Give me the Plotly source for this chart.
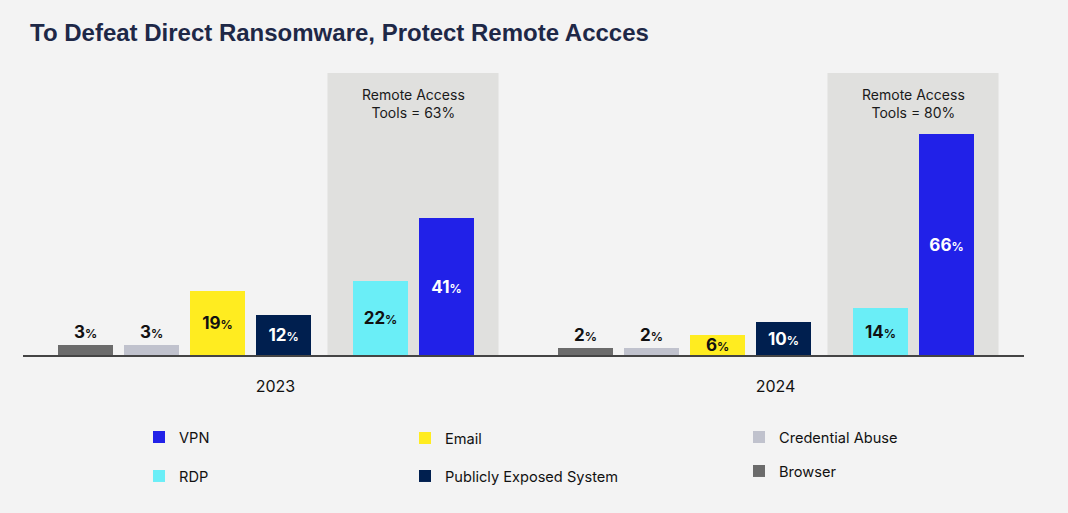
import plotly.graph_objects as go

# ---- data ----
years = ["2023", "2024"]
vpn = [41, 66]
rdp = [22, 14]
email = [19, 6]
publicly_exposed = [12, 10]
credential_abuse = [3, 2]
browser = [3, 2]
remote_access_totals = [63, 80]

series_names = ["VPN", "RDP", "Email", "Publicly Exposed System", "Credential Abuse", "Browser"]
series_values = [vpn, rdp, email, publicly_exposed, credential_abuse, browser]

# ---- styling / layout ----
colors = {
    "VPN": "#2121e8",
    "RDP": "#6aeef7",
    "Email": "#ffec20",
    "Publicly Exposed System": "#001f4f",
    "Credential Abuse": "#c0c2cd",
    "Browser": "#6b6b6b",
}
text_colors = {
    "VPN": "white", "RDP": "#111111", "Email": "#111111",
    "Publicly Exposed System": "white", "Credential Abuse": "#111111", "Browser": "#111111",
}
text_pos = {
    "VPN": "inside", "RDP": "inside", "Email": "inside",
    "Publicly Exposed System": "inside", "Credential Abuse": "outside", "Browser": "outside",
}
legend_of = {
    "VPN": "legend", "RDP": "legend", "Email": "legend2",
    "Publicly Exposed System": "legend2", "Credential Abuse": "legend3", "Browser": "legend3",
}
slot = {
    "Browser": 0, "Credential Abuse": 66, "Email": 132,
    "Publicly Exposed System": 198, "RDP": 294.5, "VPN": 360.5,
}
base = 62.5
group_step = 500
bar_w = 55
shade_half = 85.5
tick_offset = 190

W, H = 1068, 513
ML, MR, MT, MB = 23, 44, 73, 158
BG = "#f3f3f3"
FONT = "Inter"
plot_h = H - MT - MB
plot_w = W - ML - MR

fig = go.Figure()

for name, vals in zip(series_names, series_values):
    xs = [base + slot[name] + i * group_step for i in range(len(years))]
    texts = [f"<b>{v}<span style='font-size:12px'>%</span></b>" for v in vals]
    fig.add_trace(go.Bar(
        x=xs, y=vals, width=bar_w, name=name,
        marker=dict(color=colors[name], line=dict(width=0)),
        text=texts, textposition=text_pos[name], insidetextanchor="middle",
        textangle=0, constraintext="none", cliponaxis=False,
        textfont=dict(family=FONT, size=17, color=text_colors[name]),
        outsidetextfont=dict(family=FONT, size=17, color=text_colors[name]),
        legend=legend_of[name], legendgroup=name, hoverinfo="skip",
    ))

# shaded "Remote Access Tools" panels
for i, tot in enumerate(remote_access_totals):
    c = base + (slot["RDP"] + slot["VPN"]) / 2 + i * group_step
    fig.add_shape(type="rect", xref="x", yref="paper", x0=c - shade_half, x1=c + shade_half,
                  y0=0, y1=1, fillcolor="#e0e0de", line=dict(width=0), layer="below")
    fig.add_annotation(x=c, xref="x", y=(H - MB - 103) / plot_h, yref="paper", yanchor="middle",
                       text=f"Remote Access<br>Tools = {tot}%", showarrow=False, align="center",
                       font=dict(family=FONT, size=14, color="#1a1a1a"))

fig.update_layout(
    width=W, height=H,
    margin=dict(l=ML, r=MR, t=MT, b=MB, autoexpand=False),
    paper_bgcolor=BG, plot_bgcolor=BG,
    barmode="overlay", bargap=0,
    title=dict(text="<b>To Defeat Direct Ransomware, Protect Remote Accces</b>",
               x=30 / W, xref="container", xanchor="left",
               y=1 - 33 / H, yref="container", yanchor="middle",
               font=dict(family="Liberation Sans", size=24, color="#1e2847")),
    xaxis=dict(range=[0, plot_w], showgrid=False, zeroline=False,
               showline=True, linecolor="#444444", linewidth=1.5,
               tickvals=[base + tick_offset + i * group_step for i in range(len(years))],
               ticktext=years, ticks="", ticklabelstandoff=16,
               tickfont=dict(family=FONT, size=16, color="#111111"), fixedrange=True),
    yaxis=dict(range=[0, plot_h / 3.35], visible=False, fixedrange=True),
    showlegend=True,
)

leg_common = dict(xref="paper", yref="container", xanchor="left", yanchor="top",
                  bgcolor="rgba(0,0,0,0)", font=dict(family=FONT, size=14.6, color="#111111"),
                  orientation="v", traceorder="grouped", itemclick=False, itemdoubleclick=False)
fig.update_layout(
    legend=dict(x=(139 - ML) / plot_w, y=1 - 421 / H, tracegroupgap=17, **leg_common),
    legend2=dict(x=(405 - ML) / plot_w, y=1 - 422 / H, tracegroupgap=16, **leg_common),
    legend3=dict(x=(739 - ML) / plot_w, y=1 - 421 / H, tracegroupgap=12, **leg_common),
)

fig.write_html("out.html", config={"displayModeBar": False})
